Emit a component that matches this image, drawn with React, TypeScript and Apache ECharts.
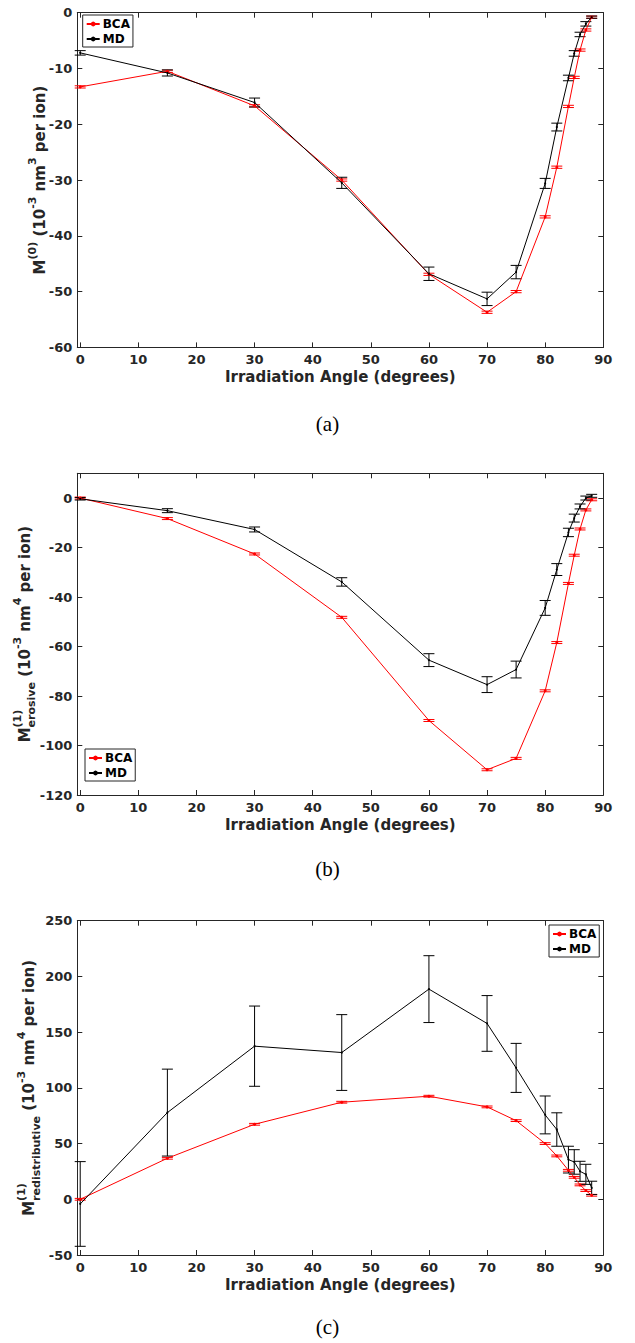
import React, { useEffect, useRef } from 'react';
import * as echarts from 'echarts';

// ---------------- data ----------------
const angles = [0, 15, 30, 45, 60, 70, 75, 80, 82, 84, 85, 86, 87, 88];
const xTicks = [0, 10, 20, 30, 40, 50, 60, 70, 80, 90];

// (a) M(0)
const m0BCA = [-13.3, -10.5, -16.7, -30.0, -46.9, -53.7, -50.0, -36.6, -27.7, -16.8, -11.6, -6.7, -3.1, -0.8];
const m0BCAErr = [0.2, 0.2, 0.2, 0.2, 0.2, 0.2, 0.2, 0.2, 0.2, 0.2, 0.2, 0.2, 0.2, 0.2];
const m0MD = [-7.2, -10.8, -16.1, -30.5, -46.8, -51.3, -46.5, -30.6, -20.5, -11.7, -7.3, -3.9, -2.0, -0.8];
const m0MDErr = [0.4, 0.55, 0.8, 1.0, 1.2, 1.2, 1.2, 0.9, 0.7, 0.5, 0.5, 0.4, 0.4, 0.2];

// (b) M(1) erosive
const m1eBCA = [0, -8.3, -22.6, -48.2, -89.9, -109.8, -105.2, -77.9, -58.4, -34.5, -23.1, -12.5, -4.8, -0.7];
const m1eBCAErr = [0.4, 0.4, 0.4, 0.4, 0.4, 0.4, 0.4, 0.4, 0.4, 0.4, 0.4, 0.4, 0.4, 0.4];
const m1eMD = [-0.3, -5.1, -12.7, -33.9, -65.5, -75.4, -69.3, -44.4, -28.9, -13.9, -8.1, -3.4, 0.0, 0.9];
const m1eMDErr = [0.5, 0.8, 1.0, 1.7, 2.6, 3.2, 3.4, 3.0, 2.4, 1.7, 1.6, 1.0, 0.8, 0.6];

// (c) M(1) redistributive
const m1rBCA = [0, 36.8, 67.3, 87.1, 92.5, 82.9, 70.6, 50.0, 38.9, 26.0, 19.7, 12.9, 7.8, 3.6];
const m1rBCAErr = [0.8, 0.8, 0.8, 0.8, 0.8, 0.8, 0.8, 0.8, 0.8, 0.8, 0.8, 0.8, 0.8, 0.8];
const m1rMD = [-4.2, 77.8, 137.4, 131.7, 188.6, 157.8, 117.9, 75.7, 62.6, 35.6, 33.5, 25.1, 22.4, 10.2];
const m1rMDErr = [38, 39, 36, 34, 30, 25, 22, 17, 15, 12, 11, 9, 9, 6];

const yRanges = [
  { min: -60, max: 0, interval: 10 },
  { min: -120, max: 10, interval: 20 },
  { min: -50, max: 250, interval: 50 },
];
const captions = ['(a)', '(b)', '(c)'];
const xName = 'Irradiation Angle (degrees)';
const legendNames = ['BCA', 'MD'];

// ---------------- layout ----------------
const W = 635;
const H = 1343;
const grids = [
  { left: 77.3, top: 12.7, width: 526, height: 334.7 },
  { left: 77.3, top: 473.3, width: 526, height: 321.7 },
  { left: 77.3, top: 920.7, width: 526, height: 334.3 },
];
const legendPos = [
  { left: 82.7, top: 15 },
  { left: 85, top: 749 },
  { left: 549, top: 925 },
];
const captionY = [423.5, 868.5, 1327];
const yLabelX = [39.5, 24.5, 29];

const TXT = '#262626';
const FONT = 'DejaVu Sans';
const RED = '#ff0000';
const BLACK = '#000000';

function measure(text: string, size: number) {
  const c = document.createElement('canvas').getContext('2d') as CanvasRenderingContext2D;
  c.font = `bold ${size}px "${FONT}"`;
  return c.measureText(text).width;
}

type Tok = { main?: string; sup?: string; sub?: string };

function yLabel(cx: number, cy: number, toks: Tok[]) {
  const MAIN = 15;
  const SMALL = 11;
  const widths = toks.map((t) => {
    if (t.main !== undefined) return measure(t.main, MAIN);
    return Math.max(t.sup ? measure(t.sup, SMALL) : 0, t.sub ? measure(t.sub, SMALL) : 0);
  });
  const total = widths.reduce((a, b) => a + b, 0);
  let pos = -total / 2;
  const children: any[] = [];
  toks.forEach((t, i) => {
    const base = { fontFamily: FONT, fontWeight: 'bold', fill: TXT, align: 'left', verticalAlign: 'middle' };
    if (t.main !== undefined) {
      children.push({ type: 'text', x: pos, y: 0, style: { ...base, text: t.main, fontSize: MAIN } });
    } else {
      if (t.sup) children.push({ type: 'text', x: pos, y: -7.5, style: { ...base, text: t.sup, fontSize: SMALL } });
      if (t.sub) children.push({ type: 'text', x: pos, y: 7, style: { ...base, text: t.sub, fontSize: SMALL } });
    }
    pos += widths[i];
  });
  return { type: 'group', x: cx, y: cy, rotation: Math.PI / 2, children };
}

function errSeries(name: string, idx: number, vals: number[], errs: number[], color: string) {
  return {
    type: 'custom',
    name,
    xAxisIndex: idx * 2,
    yAxisIndex: idx * 2,
    data: angles.map((a, i) => [a, vals[i] - errs[i], vals[i] + errs[i]]),
    encode: { x: 0, y: [1, 2] },
    silent: true,
    z: 2,
    renderItem: (params: any, api: any) => {
      const x = api.value(0);
      const lo = api.coord([x, api.value(1)]);
      const hi = api.coord([x, api.value(2)]);
      const w = 5.5;
      const st = { stroke: color, lineWidth: 1, fill: 'none' };
      return {
        type: 'group',
        children: [
          { type: 'line', shape: { x1: lo[0], y1: lo[1], x2: hi[0], y2: hi[1] }, style: st },
          { type: 'line', shape: { x1: lo[0] - w, y1: lo[1], x2: lo[0] + w, y2: lo[1] }, style: st },
          { type: 'line', shape: { x1: hi[0] - w, y1: hi[1], x2: hi[0] + w, y2: hi[1] }, style: st },
        ],
      };
    },
  };
}

function lineSeries(name: string, idx: number, vals: number[], color: string, size: number) {
  return {
    type: 'line',
    name,
    xAxisIndex: idx * 2,
    yAxisIndex: idx * 2,
    data: angles.map((a, i) => [a, vals[i]]),
    symbol: 'circle',
    symbolSize: size,
    showSymbol: true,
    lineStyle: { color, width: 1 },
    itemStyle: { color },
    z: 3,
  };
}

export default function App() {
  const ref = useRef<HTMLDivElement>(null);
  useEffect(() => {
    if (!ref.current) return;
    const chart = echarts.init(ref.current, undefined, { renderer: 'svg', width: W, height: H });

    const xAxes: any[] = [];
    const yAxes: any[] = [];
    grids.forEach((g, i) => {
      const common = {
        type: 'value',
        gridIndex: i,
        min: -0.5,
        max: 90,
        splitNumber: 9,
        splitLine: { show: false },
        axisLine: { show: true, onZero: false, lineStyle: { color: TXT, width: 1 } },
        axisTick: { show: true, inside: true, length: 5, lineStyle: { color: TXT } },
      };
      xAxes.push({
        ...common,
        position: 'bottom',
        name: xName,
        nameLocation: 'middle',
        nameGap: 22,
        nameTextStyle: { fontFamily: FONT, fontWeight: 'bold', fontSize: 15, color: TXT },
        axisLabel: {
          show: true,
          margin: 6,
          fontFamily: FONT,
          fontWeight: 'bold',
          fontSize: 13,
          color: TXT,
          formatter: (v: number) => (xTicks.includes(Math.round(v * 1000) / 1000) ? String(v) : ''),
        },
      });
      xAxes.push({ ...common, position: 'top', axisLabel: { show: false } });

      const r = yRanges[i];
      const ycommon = {
        type: 'value',
        gridIndex: i,
        min: r.min,
        max: r.max,
        interval: r.interval,
        splitLine: { show: false },
        axisLine: { show: true, onZero: false, lineStyle: { color: TXT, width: 1 } },
        axisTick: { show: true, inside: true, length: 5, lineStyle: { color: TXT } },
      };
      yAxes.push({
        ...ycommon,
        position: 'left',
        axisLabel: {
          show: true,
          margin: 5,
          fontFamily: FONT,
          fontWeight: 'bold',
          fontSize: 13,
          color: TXT,
          formatter: (v: number) => ((v - r.min) % r.interval === 0 ? String(v) : ''),
        },
      });
      yAxes.push({ ...ycommon, position: 'right', axisLabel: { show: false } });
    });

    const legends = legendPos.map((p) => ({
      left: p.left,
      top: p.top,
      orient: 'vertical',
      data: legendNames,
      itemWidth: 13,
      itemHeight: 6,
      itemGap: 3,
      padding: [3, 3, 2, 3],
      borderColor: TXT,
      borderWidth: 1,
      backgroundColor: '#ffffff',
      selectedMode: false,
      textStyle: { fontFamily: FONT, fontWeight: 'bold', fontSize: 12, color: BLACK, padding: [0, 0, 0, -2] },
    }));

    const series: any[] = [
      lineSeries('BCA', 0, m0BCA, RED, 3),
      lineSeries('MD', 0, m0MD, BLACK, 2),
      errSeries('BCA err a', 0, m0BCA, m0BCAErr, RED),
      errSeries('MD err a', 0, m0MD, m0MDErr, BLACK),
      lineSeries('BCA', 1, m1eBCA, RED, 3),
      lineSeries('MD', 1, m1eMD, BLACK, 2),
      errSeries('BCA err b', 1, m1eBCA, m1eBCAErr, RED),
      errSeries('MD err b', 1, m1eMD, m1eMDErr, BLACK),
      lineSeries('BCA', 2, m1rBCA, RED, 3),
      lineSeries('MD', 2, m1rMD, BLACK, 2),
      errSeries('BCA err c', 2, m1rBCA, m1rBCAErr, RED),
      errSeries('MD err c', 2, m1rMD, m1rMDErr, BLACK),
    ];

    const centers = grids.map((g) => g.top + g.height / 2);
    const graphic: any[] = [
      yLabel(yLabelX[0], centers[0], [
        { main: 'M' },
        { sup: '(0)' },
        { main: ' (10' },
        { sup: '-3' },
        { main: ' nm' },
        { sup: '3' },
        { main: ' per ion)' },
      ]),
      yLabel(yLabelX[1], centers[1], [
        { main: 'M' },
        { sup: '(1)', sub: 'erosive' },
        { main: ' (10' },
        { sup: '-3' },
        { main: ' nm' },
        { sup: '4' },
        { main: ' per ion)' },
      ]),
      yLabel(yLabelX[2], centers[2], [
        { main: 'M' },
        { sup: '(1)', sub: 'redistributive' },
        { main: ' (10' },
        { sup: '-3' },
        { main: ' nm' },
        { sup: '4' },
        { main: ' per ion)' },
      ]),
      ...captions.map((c, i) => ({
        type: 'text',
        x: 327.5,
        y: captionY[i],
        style: {
          text: c,
          fontFamily: 'Liberation Serif',
          fontSize: 21,
          fill: '#000',
          align: 'center',
          verticalAlign: 'middle',
        },
      })),
    ];

    chart.setOption({
      animation: false,
      backgroundColor: '#ffffff',
      grid: grids.map((g) => ({ ...g, containLabel: false })),
      xAxis: xAxes,
      yAxis: yAxes,
      legend: legends,
      series,
      graphic,
    });
    return () => chart.dispose();
  }, []);
  return <div ref={ref} style={{ position: 'absolute', left: 0, top: 0, width: W, height: H }} />;
}
